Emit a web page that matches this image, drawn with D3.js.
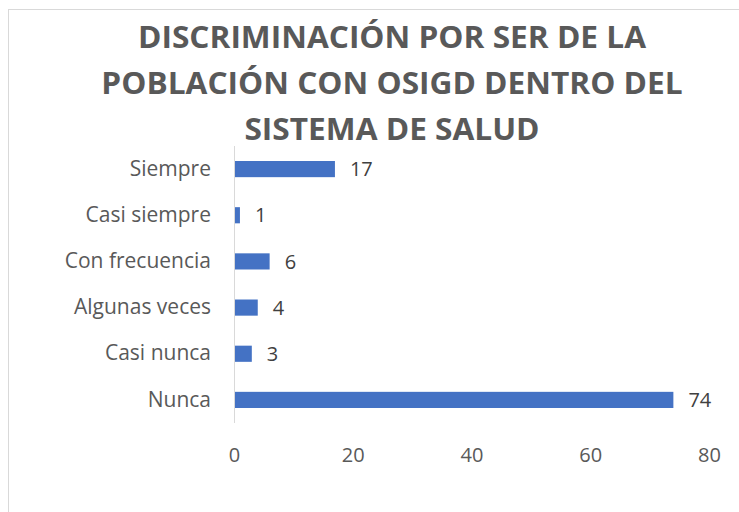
<!DOCTYPE html>
<html>
<head>
<meta charset="utf-8">
<script src="https://cdn.jsdelivr.net/npm/d3@7"></script>
<style>
  html, body { margin: 0; padding: 0; background: #fff; overflow: hidden; }
  svg { display: block; }
</style>
</head>
<body>
<div id="chart"></div>
<script>
// data
const categories = ['Siempre', 'Casi siempre', 'Con frecuencia', 'Algunas veces', 'Casi nunca', 'Nunca'];
const values = [17, 1, 6, 4, 3, 74];
const ticks = [0, 20, 40, 60, 80];
const titleLines = ['DISCRIMINACIÓN POR SER DE LA', 'POBLACIÓN CON OSIGD DENTRO DEL', 'SISTEMA DE SALUD'];

const width = 739, height = 512;
const fontFam = '"Open Sans", Lato, sans-serif';

const svg = d3.select('#chart').append('svg')
    .attr('width', width)
    .attr('height', height);

// chart border
svg.append('rect')
    .attr('x', 8.5).attr('y', 9.5)
    .attr('width', 800).attr('height', 600)
    .attr('fill', 'none')
    .attr('stroke', '#d9d9d9');

// title
const titleText = svg.append('g')
    .selectAll('text')
    .data(titleLines)
    .enter()
    .append('text')
    .attr('x', 392)
    .attr('y', (d, i) => 48 + i * 46)
    .attr('text-anchor', 'middle')
    .style('font-family', fontFam)
    .style('font-weight', 'bold')
    .style('font-size', '30px')
    .style('fill', '#595959')
    .text(d => d);

// stretch title a bit, first line is ~508px wide in the original
const firstW = titleText.node().getComputedTextLength();
const stretch = 508 / firstW;
titleText.each(function() {
    const w = this.getComputedTextLength();
    d3.select(this).attr('textLength', w * stretch).attr('lengthAdjust', 'spacingAndGlyphs');
});

// scales
const xScale = d3.scaleLinear().domain([0, 80]).range([234, 709]);
const yScale = d3.scaleBand().domain(categories).range([146, 423]).paddingInner(0.65).paddingOuter(0.325);

// bars
svg.append('g')
    .selectAll('.bar')
    .data(categories)
    .enter()
    .append('rect')
    .attr('class', 'bar')
    .attr('x', xScale(0))
    .attr('y', d => yScale(d))
    .attr('width', (d, i) => xScale(values[i]) - xScale(0))
    .attr('height', yScale.bandwidth())
    .style('fill', '#4472c4');

// y axis
const yAxisG = svg.append('g')
    .attr('transform', 'translate(' + xScale(0) + ',0)')
    .call(d3.axisLeft(yScale).tickSize(0).tickPadding(23));
yAxisG.select('.domain').attr('stroke', '#d9d9d9').attr('d', 'M0.5,146V423');
yAxisG.selectAll('text')
    .style('font-family', fontFam)
    .style('font-size', '21px')
    .style('fill', '#595959');

// x axis labels
const xAxisG = svg.append('g')
    .attr('transform', 'translate(0,' + 462 + ')')
    .call(d3.axisBottom(xScale).tickValues(ticks).tickSize(0).tickPadding(0));
xAxisG.select('.domain').remove();
xAxisG.selectAll('text')
    .attr('dy', '0')
    .style('font-family', fontFam)
    .style('font-size', '20px')
    .style('fill', '#595959');

// value labels
svg.append('g')
    .selectAll('.value-label')
    .data(categories)
    .enter()
    .append('text')
    .attr('class', 'value-label')
    .attr('x', (d, i) => xScale(values[i]) + 15)
    .attr('y', d => yScale(d) + yScale.bandwidth() / 2)
    .attr('dy', '0.36em')
    .style('font-family', fontFam)
    .style('font-size', '20px')
    .style('fill', '#404040')
    .text((d, i) => values[i]);
</script>
</body>
</html>
